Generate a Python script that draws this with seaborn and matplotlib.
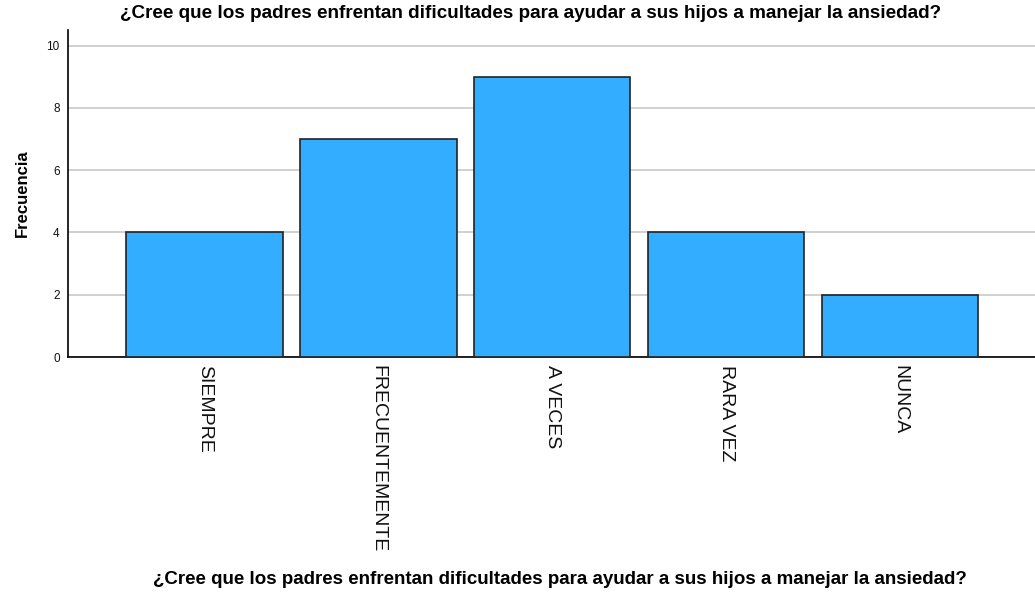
import pandas as pd
import seaborn as sns
import matplotlib
matplotlib.use('Agg')
import matplotlib.pyplot as plt

# Data
categorias = ['SIEMPRE', 'FRECUENTEMENTE', 'A VECES', 'RARA VEZ', 'NUNCA']
frecuencia = [4, 7, 9, 4, 2]
pregunta = '¿Cree que los padres enfrentan dificultades para ayudar a sus hijos a manejar la ansiedad?'

df = pd.DataFrame({'respuesta': categorias, 'frecuencia': frecuencia})

sns.set_style('white')
plt.rcParams['font.family'] = ['Liberation Sans', 'DejaVu Sans']

fig = plt.figure(figsize=(10.35, 5.95), dpi=100)
ax = fig.add_axes([68 / 1035, 1 - 357 / 595, 1 - 68 / 1035, (357 - 30) / 595])

sns.barplot(data=df, x='respuesta', y='frecuencia', color='#33ADFF', saturation=1,
            width=0.9, edgecolor='#222222', linewidth=1.2, ax=ax, zorder=3)

ax.set_ylim(0, 10.5)
ax.set_xlim(-0.784, 4.776)
ax.set_yticks([0, 2, 4, 6, 8, 10])
ax.yaxis.grid(True, color='#c8c8c8', linewidth=1.2, zorder=0)
ax.set_axisbelow(True)

for s in ['top', 'right']:
    ax.spines[s].set_visible(False)
for s in ['left', 'bottom']:
    ax.spines[s].set_color('black')
    ax.spines[s].set_linewidth(1.2)

ax.tick_params(axis='y', length=0, labelsize=8.5, pad=6, labelcolor='#111111')
ax.tick_params(axis='x', length=0, labelsize=14, pad=6, labelcolor='#111111')
for lbl in ax.get_xticklabels():
    lbl.set_rotation(270)
    lbl.set_va('top')
    lbl.set_ha('center')

ax.set_xlabel('')
ax.set_ylabel('Frecuencia', fontsize=12, fontweight='bold', labelpad=12, color='black')

fig.text(531 / 1035, 1 - 14 / 595, pregunta, ha='center', va='center',
         fontsize=13.6, fontweight='bold', color='black')
fig.text(560 / 1035, 1 - 579 / 595, pregunta, ha='center', va='center',
         fontsize=13.5, fontweight='bold', color='black')

fig.savefig('out.png', dpi=100)
